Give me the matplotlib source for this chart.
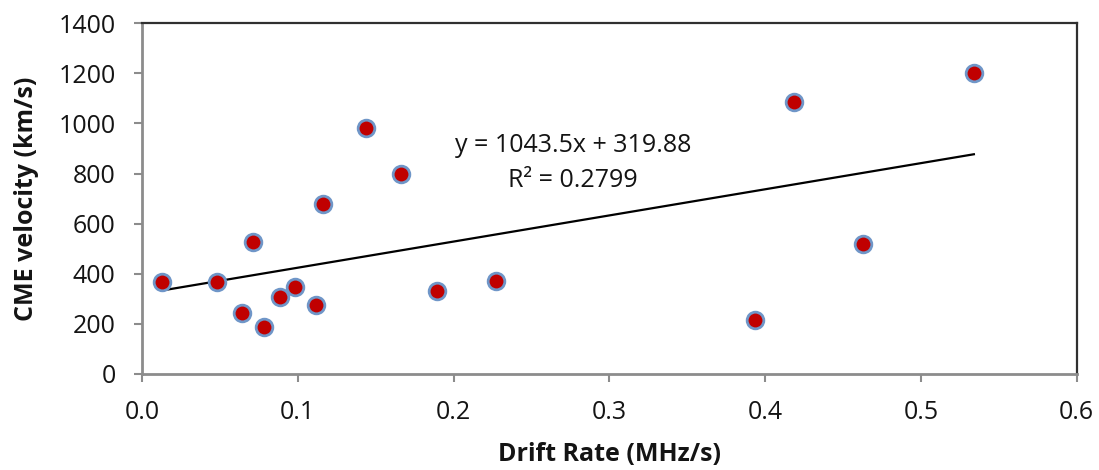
import numpy as np
import matplotlib
matplotlib.use("Agg")
import matplotlib.pyplot as plt

# drift rate (MHz/s) vs CME velocity (km/s)
drift_rate = [0.0126, 0.0483, 0.0643, 0.0714, 0.0782, 0.0885, 0.0983, 0.1118,
              0.1162, 0.1440, 0.1665, 0.1893, 0.2274, 0.3934, 0.4186, 0.4630, 0.5340]
cme_velocity = [366, 368, 245, 527, 186, 307, 347, 277,
                679, 981, 798, 331, 371, 215, 1087, 519, 1202]

# linear trendline as printed on the chart
slope = 1043.5
intercept = 319.88
r_squared = 0.2799

x_ticks = [0.0, 0.1, 0.2, 0.3, 0.4, 0.5, 0.6]
y_ticks = [0, 200, 400, 600, 800, 1000, 1200, 1400]

plt.rcParams['font.family'] = ['Open Sans', 'DejaVu Sans']
txt_color = '#141414'

fig = plt.figure(figsize=(10.99, 4.70), dpi=100)
ax = fig.add_axes([0.1292, 0.2043, 0.9797 - 0.1292, 0.9505 - 0.2043])

xs = np.array(drift_rate)
ax.plot(xs, cme_velocity, 'o', markersize=12, markerfacecolor='#c00000',
        markeredgecolor='#6f96c8', markeredgewidth=2.0, zorder=3)

xl = np.array([xs.min(), xs.max()])
ax.plot(xl, slope * xl + intercept, color='black', linewidth=1.6, zorder=2)

ax.text(0.2766, 914, "y = {}x + {}".format(slope, intercept), fontsize=18,
        ha='center', va='center', color=txt_color)
ax.text(0.2766, 774, "R² = {}".format(r_squared), fontsize=18,
        ha='center', va='center', color=txt_color)

ax.set_xlim(0, 0.6)
ax.set_ylim(0, 1400)
ax.set_xticks(x_ticks)
ax.set_xticklabels(["{:.1f}".format(v) for v in x_ticks])
ax.set_yticks(y_ticks)

for side in ['left', 'bottom']:
    ax.spines[side].set_color('#8c8c8c')
    ax.spines[side].set_linewidth(2.0)
for side in ['top', 'right']:
    ax.spines[side].set_color('#303030')
    ax.spines[side].set_linewidth(1.6)

ax.tick_params(axis='both', direction='out', length=6, width=1.5,
               color='#8c8c8c', labelsize=18, labelcolor=txt_color, pad=13)

ax.set_xlabel("Drift Rate (MHz/s)", fontsize=18, fontweight='bold',
              color=txt_color, labelpad=12)
ax.set_ylabel("CME velocity (km/s)", fontsize=18, fontweight='bold',
              color=txt_color, labelpad=14)

fig.savefig("out.png", dpi=100)
